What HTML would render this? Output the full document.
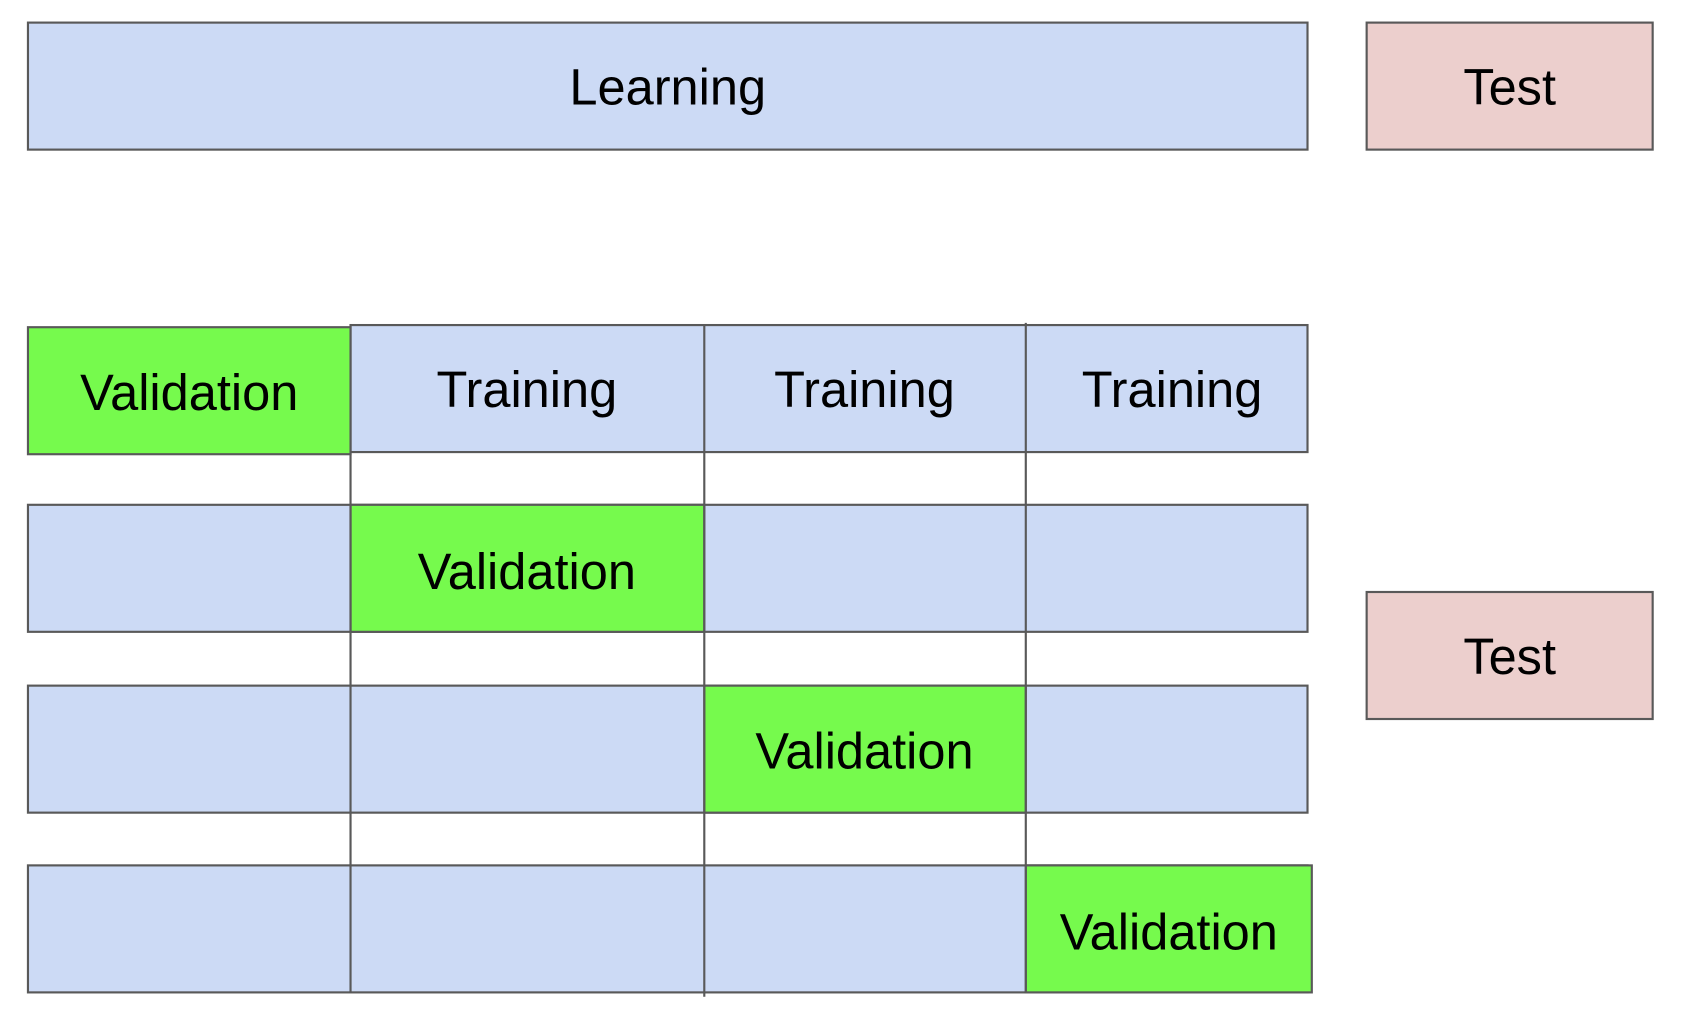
<!DOCTYPE html>
<html><head><style>html,body{margin:0;padding:0;background:#fff}svg{display:block}</style></head>
<body>
<svg width="1686" height="1022" viewBox="0 0 1568 949.5" preserveAspectRatio="none" xmlns="http://www.w3.org/2000/svg" font-family="Liberation Sans, Arial, sans-serif" font-size="47" text-anchor="middle">
<g stroke="#595959" stroke-width="2">
<rect x="26" y="21" width="1190" height="118" fill="#ccdaf5"/>
<rect x="1271" y="21" width="266" height="118" fill="#eccfcd"/>
<rect x="1271" y="550" width="266" height="118" fill="#eccfcd"/>
<rect x="326" y="302" width="890" height="118" fill="#ccdaf5"/>
<rect x="26" y="304" width="300" height="118" fill="#76fa4d"/>
<rect x="26" y="469" width="1190" height="118" fill="#ccdaf5"/>
<rect x="326" y="469" width="329" height="118" fill="#76fa4d"/>
<rect x="26" y="637" width="1190" height="118" fill="#ccdaf5"/>
<rect x="655" y="637" width="299" height="118" fill="#76fa4d"/>
<rect x="26" y="804" width="1190" height="118" fill="#ccdaf5"/>
<rect x="954" y="804" width="266" height="118" fill="#76fa4d"/>
<line x1="326" y1="421" x2="326" y2="922"/>
<line x1="655" y1="302" x2="655" y2="926"/>
<line x1="954" y1="300" x2="954" y2="922"/>
</g>
<g fill="#000">
<text x="621" y="97">Learning</text>
<text x="1404" y="97">Test</text>
<text x="1404" y="626">Test</text>
<text x="176" y="381">Validation</text>
<text x="490" y="378">Training</text>
<text x="804" y="378">Training</text>
<text x="1090" y="378">Training</text>
<text x="490" y="547">Validation</text>
<text x="804" y="714">Validation</text>
<text x="1087" y="882">Validation</text>
</g>
</svg>
</body></html>
